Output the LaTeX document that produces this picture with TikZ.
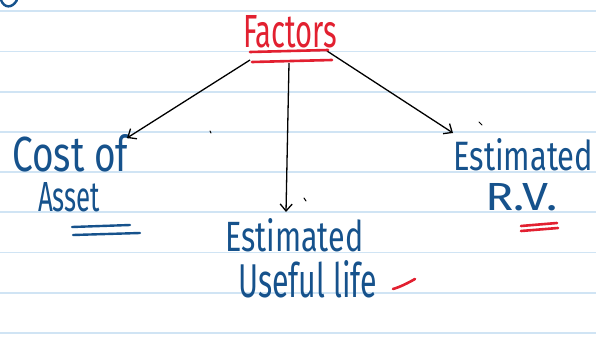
\documentclass[tikz,border=0pt]{standalone}
\usepackage{fontspec}
\setmainfont{Fira Sans}
\usetikzlibrary{arrows.meta}
\definecolor{hblue}{RGB}{22,82,140}
\definecolor{hred}{RGB}{226,32,48}
\definecolor{ruleblue}{RGB}{208,228,244}
\newcommand{\hw}[3]{\resizebox{#1pt}{#2pt}{#3}}
\begin{document}
\begin{tikzpicture}[x=1pt,y=-1pt,
  rulingline/.style={draw=ruleblue, line width=1.2pt},
  bluetext/.style={anchor=base west, inner sep=0pt, text=hblue},
  redtext/.style={anchor=base west, inner sep=0pt, text=hred},
  arr/.style={draw=black, line width=1.3pt, -{Straight Barb[length=7pt,width=12pt,line width=1.3pt]}},
  redmark/.style={draw=hred, line width=2.6pt, line cap=round},
  bluemark/.style={draw=hblue, line width=2.4pt, line cap=round},
  speck/.style={draw=black, line width=1pt, line cap=round}]
\useasboundingbox (0,0) rectangle (596,337);
\clip (0,0) rectangle (596,337);
\fill[white] (0,0) rectangle (596,337);
\foreach \yy in {11,51.5,92,132,172,212,252.5,293,333}
  \draw[rulingline] (0,\yy) -- (596,\yy);
% texts
\node[redtext] (factors) at (243,47) {\hw{94}{32}{Factors}};
\node[bluetext] (cost) at (12,171) {\hw{116}{37}{Cost of}};
\node[bluetext] (asset) at (38,211) {\hw{62}{29}{Asset}};
\node[bluetext] (estR) at (453,170) {\hw{140}{32}{Estimated}};
\node[bluetext] (rv) at (485,210) {\hw{72}{27}{R.V.}};
\node[bluetext] (estM) at (225,251) {\hw{138}{33}{Estimated}};
\node[bluetext] (useful) at (238,297) {\hw{139}{37}{Useful life}};
% connector ends
\coordinate (fL) at (250,60);
\coordinate (fM) at (289,63);
\coordinate (fR) at (327,51);
\coordinate (tL) at (127,138);
\coordinate (tM) at (286,212);
\coordinate (tR) at (453,133);
\draw[arr] (fL) -- (tL);
\draw[arr] (fM) -- (tM);
\draw[arr] (fR) -- (tR);
% underlines
\draw[redmark] (250,52) -- (328,50);
\draw[redmark] (252,62) -- (332,60);
\draw[bluemark] (72,227) -- (130,225);
\draw[bluemark] (73,235) -- (140,233);
\draw[redmark] (521,226) -- (557,223);
\draw[redmark] (521,231) -- (558,228);
\draw[redmark] (393,289) .. controls (400,287) and (408,283) .. (415,279);
% stray marks
\draw[bluemark] (1,0) .. controls (4,8) and (12,9) .. (17,0);
\draw[speck] (210,131) -- (211,133);
\draw[speck] (304,198) -- (306,201);
\draw[speck] (479,122) -- (482,125);
\end{tikzpicture}
\end{document}
